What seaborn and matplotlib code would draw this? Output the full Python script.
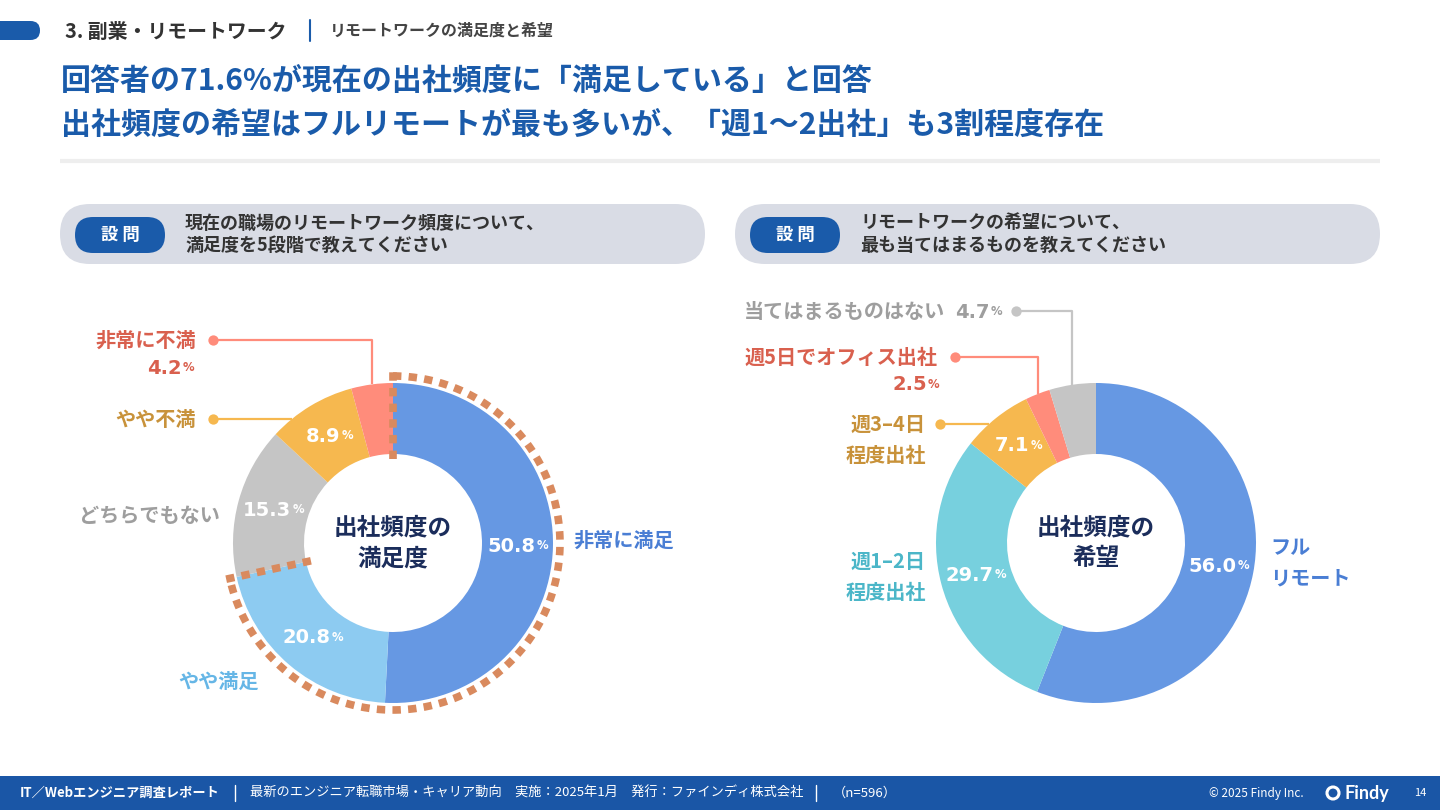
import numpy as np
import matplotlib.pyplot as plt
import seaborn as sns
from matplotlib.patches import FancyBboxPatch, Rectangle, Circle

sns.set_theme(style="white")
plt.rcParams['font.family'] = ['Noto Sans CJK JP', 'DejaVu Sans']

# ---- data ----
sat_labels = ["非常に満足", "やや満足", "どちらでもない", "やや不満", "非常に不満"]
sat_values = [50.8, 20.8, 15.3, 8.9, 4.2]
wish_labels = ["フル\nリモート", "週1–2日\n程度出社", "週3–4日\n程度出社", "週5日でオフィス出社", "当てはまるものはない"]
wish_values = [56.0, 29.7, 7.1, 2.5, 4.7]

section = "3. 副業・リモートワーク"
subsection = "リモートワークの満足度と希望"
title_lines = ["回答者の71.6%が現在の出社頻度に「満足している」と回答",
               "出社頻度の希望はフルリモートが最も多いが、「週1〜2出社」も3割程度存在"]
q_left = "現在の職場のリモートワーク頻度について、\n満足度を5段階で教えてください"
q_right = "リモートワークの希望について、\n最も当てはまるものを教えてください"
center_left = "出社頻度の\n満足度"
center_right = "出社頻度の\n希望"

# ---- colours ----
NAVY = "#1A5BAA"
BLUE, LBLUE, GRAY, YELLOW, SALMON, TEAL = "#6698E3", "#8DCBF1", "#C5C5C5", "#F6B84F", "#FF8C7B", "#77D0DE"
T_BLUE, T_LBLUE, T_GRAY, T_GOLD, T_RED, T_TEAL = "#4A7ED4", "#66B6E6", "#9E9E9E", "#C8923A", "#D9604E", "#4BB6C8"
sat_colors = sns.color_palette([BLUE, LBLUE, GRAY, YELLOW, SALMON])
wish_colors = sns.color_palette([BLUE, TEAL, YELLOW, SALMON, GRAY])

R_OUT, R_IN = 160, 89
LC, RC = (393, 543), (1096, 543)
NUM_FONT = ["DejaVu Sans"]

fig = plt.figure(figsize=(14.4, 8.1), dpi=100)
ax = fig.add_axes([0, 0, 1, 1])


def polar(c, r, deg):
    return c[0] + r * np.cos(np.radians(deg)), c[1] + r * np.sin(np.radians(deg))


def donut(values, colors, c):
    wedges, _ = ax.pie(values, colors=colors, center=c, radius=R_OUT, startangle=-90,
                       counterclock=True, wedgeprops=dict(width=R_OUT - R_IN, linewidth=0))
    return wedges


def pct(x, y, v, color="white", size=14, ha="center"):
    # number in heavy type, small "%" right after it
    t = ax.text(x - 6 if ha == "center" else x, y, f"{v:.1f}", ha=ha, va="center",
                fontsize=size, weight="bold", color=color, family=NUM_FONT)
    ax.annotate("%", xy=(1, 0.2), xycoords=t, xytext=(1, 0), textcoords="offset points",
                fontsize=size * 0.6, weight="bold", color=color, ha="left", va="bottom",
                family=NUM_FONT)


def mid(w):
    return (w.theta1 + w.theta2) / 2


# ---- donuts ----
lw_ = donut(sat_values, sat_colors, LC)
rw_ = donut(wish_values, wish_colors, RC)

for w, v in zip(lw_[:4], sat_values[:4]):
    pct(*polar(LC, (R_OUT + R_IN) / 2, mid(w)), v)
for w, v in zip(rw_[:3], wish_values[:3]):
    pct(*polar(RC, (R_OUT + R_IN) / 2, mid(w)), v)

ax.text(*LC, center_left, ha="center", va="center", fontsize=17, weight="bold",
        color="#1B2D5B", linespacing=1.35)
ax.text(*RC, center_right, ha="center", va="center", fontsize=17, weight="bold",
        color="#1B2D5B", linespacing=1.35)

# dotted arc around "satisfied" share (left)
DOT = "#D98A5E"
a0, a1 = lw_[0].theta1, lw_[1].theta2
ang = np.linspace(a0, a1, 300)
ax.plot(LC[0] + 167 * np.cos(np.radians(ang)), LC[1] + 167 * np.sin(np.radians(ang)),
        color=DOT, lw=5.5, linestyle=(0, (1.1, 0.95)), dash_capstyle="butt")
for a in (a0, a1):
    p0, p1 = polar(LC, R_IN - 5, a), polar(LC, 172, a)
    ax.plot([p0[0], p1[0]], [p0[1], p1[1]], color=DOT, lw=5.5,
            linestyle=(0, (1.1, 0.95)), dash_capstyle="butt")


# ---- leader lines / outer labels ----
def leader(dot, end, color, corner=True):
    if corner:
        xs, ys = [dot[0], end[0], end[0]], [dot[1], dot[1], end[1]]
    else:
        xs, ys = [dot[0], end[0]], [dot[1], end[1]]
    ax.plot(xs, ys, color=color, lw=1.6, solid_capstyle="butt")
    ax.scatter([dot[0]], [dot[1]], s=55, color=color, zorder=5, linewidths=0)


def edge_x(c, y):
    return c[0] - np.sqrt(R_OUT ** 2 - (c[1] - y) ** 2)


lab = dict(fontsize=14.5, weight="bold")
# left chart
leader((213, 340), polar(LC, R_OUT, mid(lw_[4])), SALMON)
ax.text(196, 340, sat_labels[4], ha="right", va="center", color=T_RED, **lab)
pct(147, 368, sat_values[4], color=T_RED, ha="left")
leader((213, 419), (edge_x(LC, 419), 419), YELLOW, corner=False)
ax.text(196, 419, sat_labels[3], ha="right", va="center", color=T_GOLD, **lab)
ax.text(220, 515, sat_labels[2], ha="right", va="center", color=T_GRAY, **lab)
ax.text(573, 540, sat_labels[0], ha="left", va="center", color=T_BLUE, **lab)
ax.text(178, 681, sat_labels[1], ha="left", va="center", color=T_LBLUE, **lab)

# right chart
leader((1016, 311), polar(RC, R_OUT, mid(rw_[4])), "#C5C5C5")
ax.text(945, 311, wish_labels[4], ha="right", va="center", color=T_GRAY, **lab)
pct(955, 312, wish_values[4], color=T_GRAY, ha="left")
leader((955, 357), polar(RC, R_OUT, mid(rw_[3])), SALMON)
ax.text(938, 357, wish_labels[3], ha="right", va="center", color=T_RED, **lab)
pct(892, 385, wish_values[3], color=T_RED, ha="left")
leader((940, 424), (edge_x(RC, 424), 424), YELLOW, corner=False)
ax.text(926, 440, wish_labels[2], ha="right", va="center", color=T_GOLD,
        linespacing=1.55, **lab)
ax.text(926, 577, wish_labels[1], ha="right", va="center", color=T_TEAL,
        linespacing=1.55, **lab)
ax.text(1270, 563, wish_labels[0], ha="left", va="center", color=T_BLUE,
        linespacing=1.55, **lab)

# ---- header ----
ax.add_patch(FancyBboxPatch((-30, 21), 70, 19, boxstyle="round,pad=0,rounding_size=9.5",
                            color=NAVY, lw=0))
ax.text(65, 31, section, ha="left", va="center", fontsize=14.3, weight="bold", color="#333333")
ax.plot([310, 310], [20, 41], color=NAVY, lw=1.5)
ax.text(330, 31, subsection, ha="left", va="center", fontsize=11.5, weight="bold", color="#444444")
ax.text(61, 81, title_lines[0], ha="left", va="center", fontsize=21.6, weight="bold", color=NAVY)
ax.text(61, 125, title_lines[1], ha="left", va="center", fontsize=21.6, weight="bold", color=NAVY)
ax.plot([60, 1380], [161, 161], color="#EEEEEE", lw=3, solid_capstyle="butt")

# ---- question pills ----
for x0, q in ((60, q_left), (735, q_right)):
    ax.add_patch(FancyBboxPatch((x0, 204), 645, 60, boxstyle="round,pad=0,rounding_size=30",
                                color="#D9DCE5", lw=0))
    ax.add_patch(FancyBboxPatch((x0 + 15, 217), 90, 36, boxstyle="round,pad=0,rounding_size=18",
                                color=NAVY, lw=0))
    ax.text(x0 + 60, 235, "設 問", ha="center", va="center", fontsize=12.5, weight="bold",
            color="white")
    ax.text(x0 + 125, 234, q, ha="left", va="center", fontsize=13, weight="bold",
            color="#333333", linespacing=1.2)

# ---- footer ----
ax.add_patch(Rectangle((0, 776), 1440, 34, color="#1A56A6", lw=0))
fy = 793
ax.text(20, fy, "IT／Webエンジニア調査レポート", ha="left", va="center", fontsize=9.5,
        weight="bold", color="white")
ax.plot([235, 235], [785, 801], color="white", lw=1)
ax.text(250, fy, "最新のエンジニア転職市場・キャリア動向　実施：2025年1月　発行：ファインディ株式会社",
        ha="left", va="center", fontsize=9.5, color="white")
ax.plot([816, 816], [785, 801], color="white", lw=1)
ax.text(833, fy, "（n=596）", ha="left", va="center", fontsize=9.5, color="white")
ax.text(1209, fy, "© 2025 Findy Inc.", ha="left", va="center", fontsize=8.5, color="white")
ax.add_patch(Circle((1333, fy), 6, fill=False, ec="white", lw=2.2))
ax.text(1344, fy, "Findy", ha="left", va="center", fontsize=13, weight="bold", color="white",
        family=["Lato", "DejaVu Sans"])
ax.text(1414, fy, "14", ha="left", va="center", fontsize=8, color="white")

ax.set_xlim(0, 1440)
ax.set_ylim(810, 0)
ax.set_aspect("auto")
ax.set_position([0, 0, 1, 1])
ax.axis("off")

fig.savefig("out.png", dpi=100, facecolor="white")
